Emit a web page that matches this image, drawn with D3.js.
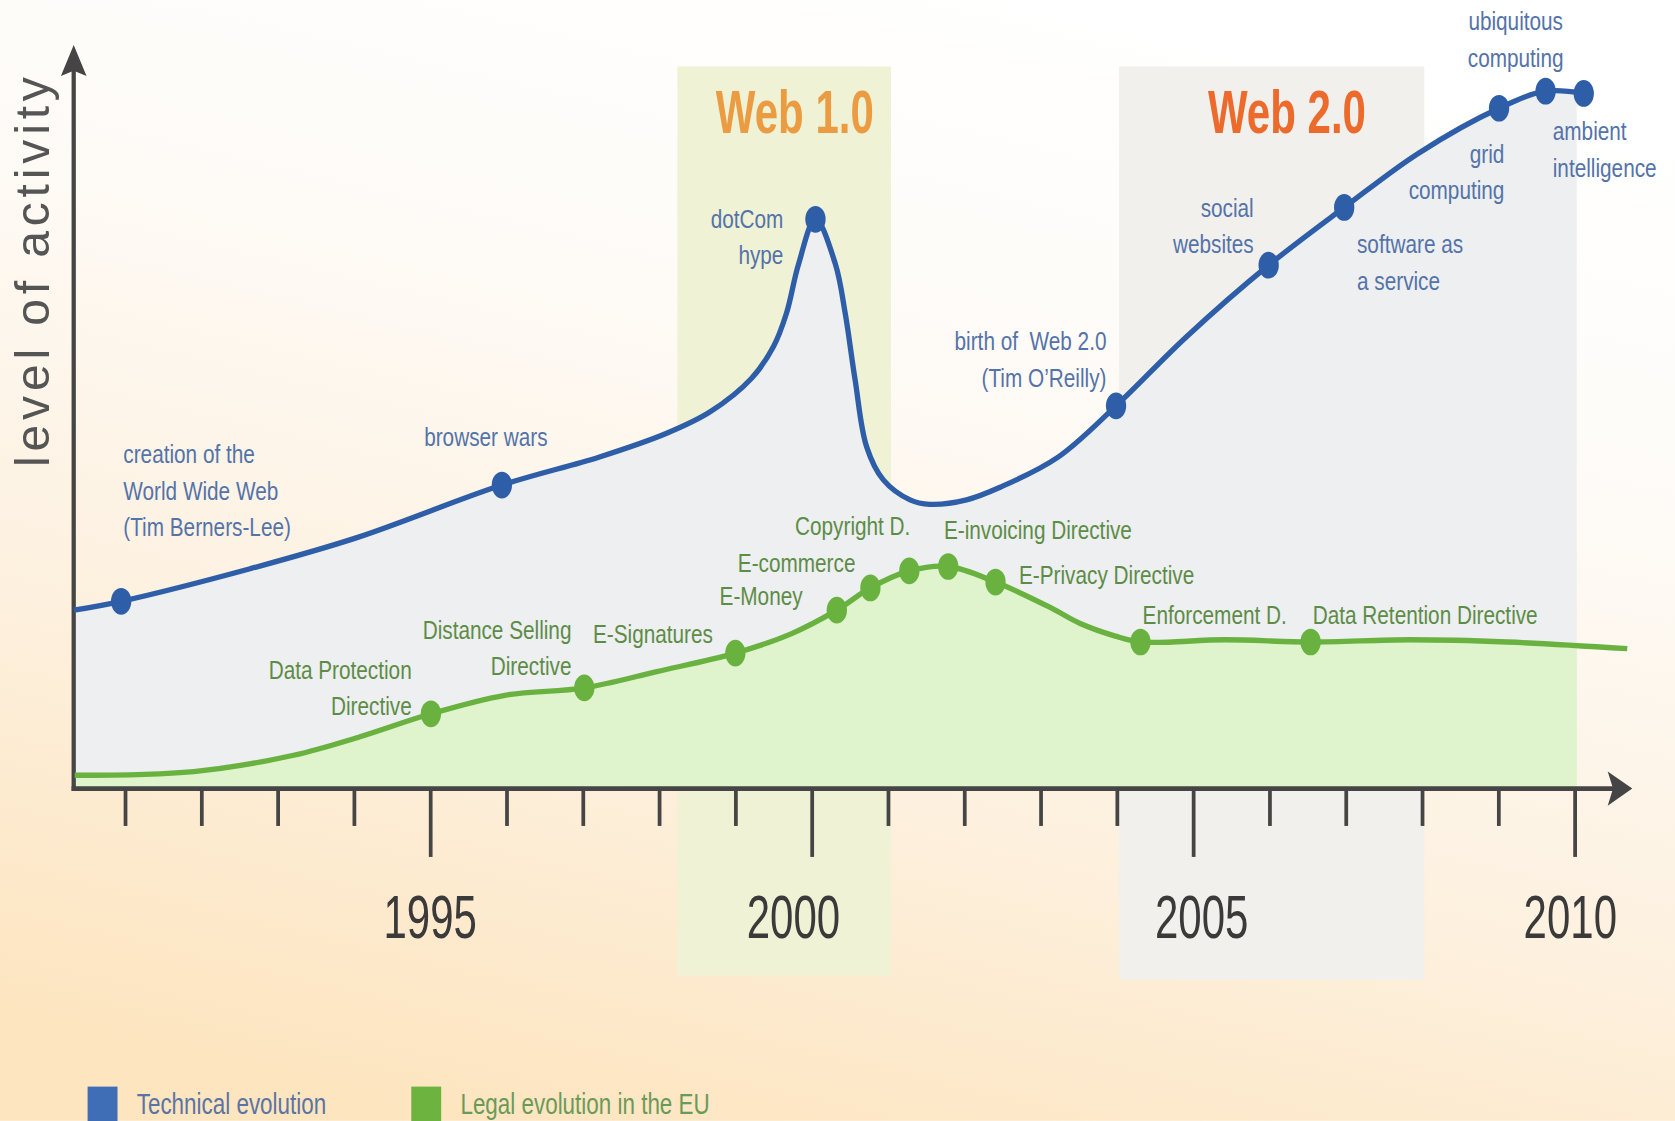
<!DOCTYPE html>
<html>
<head>
<meta charset="utf-8">
<script src="https://cdn.jsdelivr.net/npm/d3@7"></script>
<style>
  body { margin: 0; background: #fff; }
  svg { display: block; }
  text { font-family: "Liberation Sans", Arial, sans-serif; white-space: pre; }
</style>
</head>
<body>
<div id="chart"></div>
<script>
// Technical evolution (blue line): year and level of activity.
const techYears = [1990.33, 1990.95, 1992.64, 1994.04, 1995.94, 1997.22, 1998.10, 1998.67,
    1999.21, 1999.50, 1999.67, 1999.83, 2000.05, 2000.31, 2000.44, 2000.57, 2000.72,
    2000.94, 2001.29, 2001.55, 2002.03, 2002.47, 2003.22, 2003.99, 2004.91, 2005.99,
    2006.98, 2007.95, 2009.01, 2009.62, 2010.12];
const techLevels = [24.1, 25.3, 29.7, 33.9, 41.0, 44.8, 48.0, 50.9,
    55.4, 59.7, 64.2, 70.9, 76.9, 70.9, 64.2, 55.2, 46.2,
    41.7, 39.0, 38.4, 39.0, 40.7, 44.7, 51.7, 61.0, 70.7,
    78.5, 85.8, 91.9, 94.2, 93.9];
// Which points of the line carry a dot, and their captions.
const techDots = [1, 4, 12, 23, 25, 26, 28, 29, 30];
const techLabels = [
    ["creation of the", "World Wide Web", "(Tim Berners-Lee)"],
    ["browser wars"],
    ["dotCom", "hype"],
    ["birth of  Web 2.0", "(Tim O\u2019Reilly)"],
    ["social", "websites"],
    ["software as", "a service"],
    ["grid", "computing"],
    ["ubiquitous", "computing"],
    ["ambient", "intelligence"]
];

// Legal evolution in the EU (green line).
const legalYears = [1990.34, 1991.90, 1993.21, 1994.08, 1995.01, 1995.98, 1997.02, 1997.97,
    1999.00, 1999.73, 2000.33, 2000.77, 2001.28, 2001.79, 2002.41, 2003.12, 2003.52,
    2003.98, 2004.31, 2005.42, 2006.54, 2007.84, 2009.12, 2010.69];
const legalLevels = [1.8, 2.3, 4.5, 7.0, 10.1, 12.6, 13.6, 15.8,
    18.3, 20.9, 24.1, 27.1, 29.4, 30.0, 27.9, 24.5, 22.3,
    20.6, 19.8, 20.1, 19.8, 20.1, 19.8, 18.9];
const legalDots = [4, 6, 8, 10, 11, 12, 13, 14, 18, 20];
const legalLabels = [
    ["Data Protection", "Directive"],
    ["Distance Selling", "Directive"],
    ["E-Signatures"],
    ["E-Money"],
    ["E-commerce"],
    ["Copyright D."],
    ["E-invoicing Directive"],
    ["E-Privacy Directive"],
    ["Enforcement D."],
    ["Data Retention Directive"]
];

// Axis ticks and the two eras.
const tickYears = d3.range(1991, 2011);
const yearLabels = [1995, 2000, 2005, 2010];
const eraNames = ["Web 1.0", "Web 2.0"];
const eraStart = [1998.24, 2004.03];
const eraEnd = [2001.04, 2008.03];
const eraTitleYear = [1999.78, 2006.23];
const seriesNames = ["Technical evolution", "Legal evolution in the EU"];

// Drawing is done in a 1568 x 1049 box, scaled up to the window.
let W = 1568, H = 1049,
    axisLeft = 69, axisRight = 1528;

let x = d3.scaleLinear().domain([1991, 2010]).range([117, 1474]);
let y = d3.scaleLinear().domain([0, 100]).range([738, 45]);

let svg = d3.select("#chart").append("svg")
    .attr("width", 1675)
    .attr("height", 1121)
    .attr("viewBox", "0 0 " + W + " " + H);

let defs = svg.append("defs");

let bg = defs.append("linearGradient")
    .attr("id", "bg")
    .attr("x1", 0.65).attr("y1", 0)
    .attr("x2", 0.3).attr("y2", 1);
[[0, "#ffffff"], [0.3, "#fefbf7"], [0.65, "#fdf1e0"], [1, "#fde5c0"]].forEach(function (s) {
    bg.append("stop").attr("offset", s[0]).attr("stop-color", s[1]);
});

defs.append("clipPath").attr("id", "fillClip")
    .append("rect")
    .attr("x", axisLeft).attr("y", 0)
    .attr("width", x(2010) + 2 - axisLeft).attr("height", y(0));

svg.append("rect")
    .attr("width", W).attr("height", H)
    .attr("fill", "url(#bg)");

// Narrow text: the face is squeezed horizontally by k around its anchor.
function narrowText(px, py, str, size, k, anchor, color) {
    return svg.append("text")
        .attr("transform", "translate(" + px + "," + py + ") scale(" + k + ",1)")
        .attr("text-anchor", anchor)
        .attr("font-size", size)
        .attr("fill", color)
        .text(str);
}

// Era bands.
let eraFill = ["#eff2d4", "#f1f0ec"];
let eraColor = ["#eb9c42", "#ec6a2b"];
let eraBottom = [913, 917];
eraNames.forEach(function (name, i) {
    svg.append("rect")
        .attr("x", x(eraStart[i]))
        .attr("y", 62)
        .attr("width", x(eraEnd[i]) - x(eraStart[i]))
        .attr("height", eraBottom[i] - 62)
        .attr("fill", eraFill[i]);
    narrowText(x(eraTitleYear[i]), 124, name, 57, 0.69, "middle", eraColor[i])
        .attr("font-weight", "bold");
});

let techData = techYears.map(function (d, i) { return [d, techLevels[i]]; });
let legalData = legalYears.map(function (d, i) { return [d, legalLevels[i]]; });

let curve = d3.curveCatmullRom.alpha(0.5);

let area = d3.area()
    .x(function (d) { return x(d[0]); })
    .y0(y(0))
    .y1(function (d) { return y(d[1]); })
    .curve(curve);

let line = d3.line()
    .x(function (d) { return x(d[0]); })
    .y(function (d) { return y(d[1]); })
    .curve(curve);

let fills = svg.append("g").attr("clip-path", "url(#fillClip)");
fills.append("path").datum(techData).attr("d", area).attr("fill", "#edeff0");
fills.append("path").datum(legalData).attr("d", area).attr("fill", "#dff3cd");

// Ticks under the x axis.
let ticks = svg.append("g")
    .attr("transform", "translate(0," + y(0) + ")")
    .call(d3.axisBottom(x).tickValues(tickYears).tickSize(35).tickFormat(""));
ticks.select(".domain").remove();
ticks.selectAll(".tick line")
    .attr("stroke", "#454545")
    .attr("stroke-width", 3.5)
    .attr("y2", function (d) { return yearLabels.indexOf(d) >= 0 ? 64 : 35; });

// Axis lines with arrow heads.
let axisColor = "#454545";
svg.append("line")
    .attr("x1", axisLeft).attr("x2", axisLeft)
    .attr("y1", y(0) + 2).attr("y2", 62)
    .attr("stroke", axisColor).attr("stroke-width", 4);
svg.append("path")
    .attr("d", "M" + axisLeft + ",42 L" + (axisLeft + 12) + ",71 L" + axisLeft + ",66 L" + (axisLeft - 12) + ",71 Z")
    .attr("fill", axisColor);
svg.append("line")
    .attr("x1", axisLeft - 2).attr("x2", axisRight - 18)
    .attr("y1", y(0)).attr("y2", y(0))
    .attr("stroke", axisColor).attr("stroke-width", 4.5);
svg.append("path")
    .attr("d", "M" + axisRight + "," + y(0) + " L" + (axisRight - 23) + "," + (y(0) - 16) +
        " L" + (axisRight - 18) + "," + y(0) + " L" + (axisRight - 23) + "," + (y(0) + 16) + " Z")
    .attr("fill", axisColor);

// Lines.
svg.append("path").datum(techData).attr("d", line)
    .attr("fill", "none").attr("stroke", "#2f5ea9").attr("stroke-width", 5);
svg.append("path").datum(legalData).attr("d", line)
    .attr("fill", "none").attr("stroke", "#6ab23f").attr("stroke-width", 5);

// Dots (slightly tall, as in the original drawing).
svg.selectAll(".techDot")
    .data(techDots)
    .enter().append("ellipse")
    .attr("class", "techDot")
    .attr("cx", function (i) { return x(techYears[i]); })
    .attr("cy", function (i) { return y(techLevels[i]); })
    .attr("rx", 9.5)
    .attr("ry", 12.5)
    .attr("fill", "#2f5ea9");
svg.selectAll(".legalDot")
    .data(legalDots)
    .enter().append("ellipse")
    .attr("class", "legalDot")
    .attr("cx", function (i) { return x(legalYears[i]); })
    .attr("cy", function (i) { return y(legalLevels[i]); })
    .attr("rx", 9.5)
    .attr("ry", 12.5)
    .attr("fill", "#6ab23f");

// Captions: offset of the first baseline from the dot, and anchor.
let techPlace = [[2, -129, "start"], [-15, -37, "middle"], [-30, 8, "end"], [-9, -52, "end"],
    [-14, -45, "end"], [12, 43, "start"], [5, 51, "end"], [-28, -57, "middle"], [-29, 44, "start"]];
let legalPlace = [[-18, -33, "end"], [-12, -46, "end"], [-21, -9, "end"], [-32, -5, "end"],
    [-14, -15, "end"], [1, -34, "end"], [-4, -26, "start"], [22, 2, "start"],
    [2, -17, "start"], [2, -17, "start"]];

function captions(dots, years, levels, labels, place, color) {
    dots.forEach(function (idx, k) {
        let px = x(years[idx]), py = y(levels[idx]);
        labels[k].forEach(function (str, j) {
            narrowText(px + place[k][0], py + place[k][1] + j * 34, str, 24, 0.81, place[k][2], color);
        });
    });
}
captions(techDots, techYears, techLevels, techLabels, techPlace, "#5473a9");
captions(legalDots, legalYears, legalLevels, legalLabels, legalPlace, "#5d8c47");

// Year labels under the long ticks.
let yearShift = [0, -17, 8, -4];
yearLabels.forEach(function (yr, i) {
    narrowText(x(yr) + yearShift[i], 878, yr, 57, 0.69, "middle", "#3a3a3a");
});

// Y axis title.
svg.append("text")
    .attr("transform", "translate(46,437) rotate(-90)")
    .attr("font-size", 45)
    .attr("fill", "#555")
    .attr("textLength", 365)
    .attr("lengthAdjust", "spacing")
    .text("level of activity");

// Legend.
let legendX = [82, 385];
let legendBox = ["#3f6db6", "#6cb33f"];
let legendText = ["#5a74a3", "#6a9a57"];
seriesNames.forEach(function (name, i) {
    svg.append("rect")
        .attr("x", legendX[i]).attr("y", 1017)
        .attr("width", 28).attr("height", 40)
        .attr("fill", legendBox[i]);
    narrowText(legendX[i] + 46, 1043, name, 28, 0.75, "start", legendText[i]);
});
</script>
</body>
</html>
